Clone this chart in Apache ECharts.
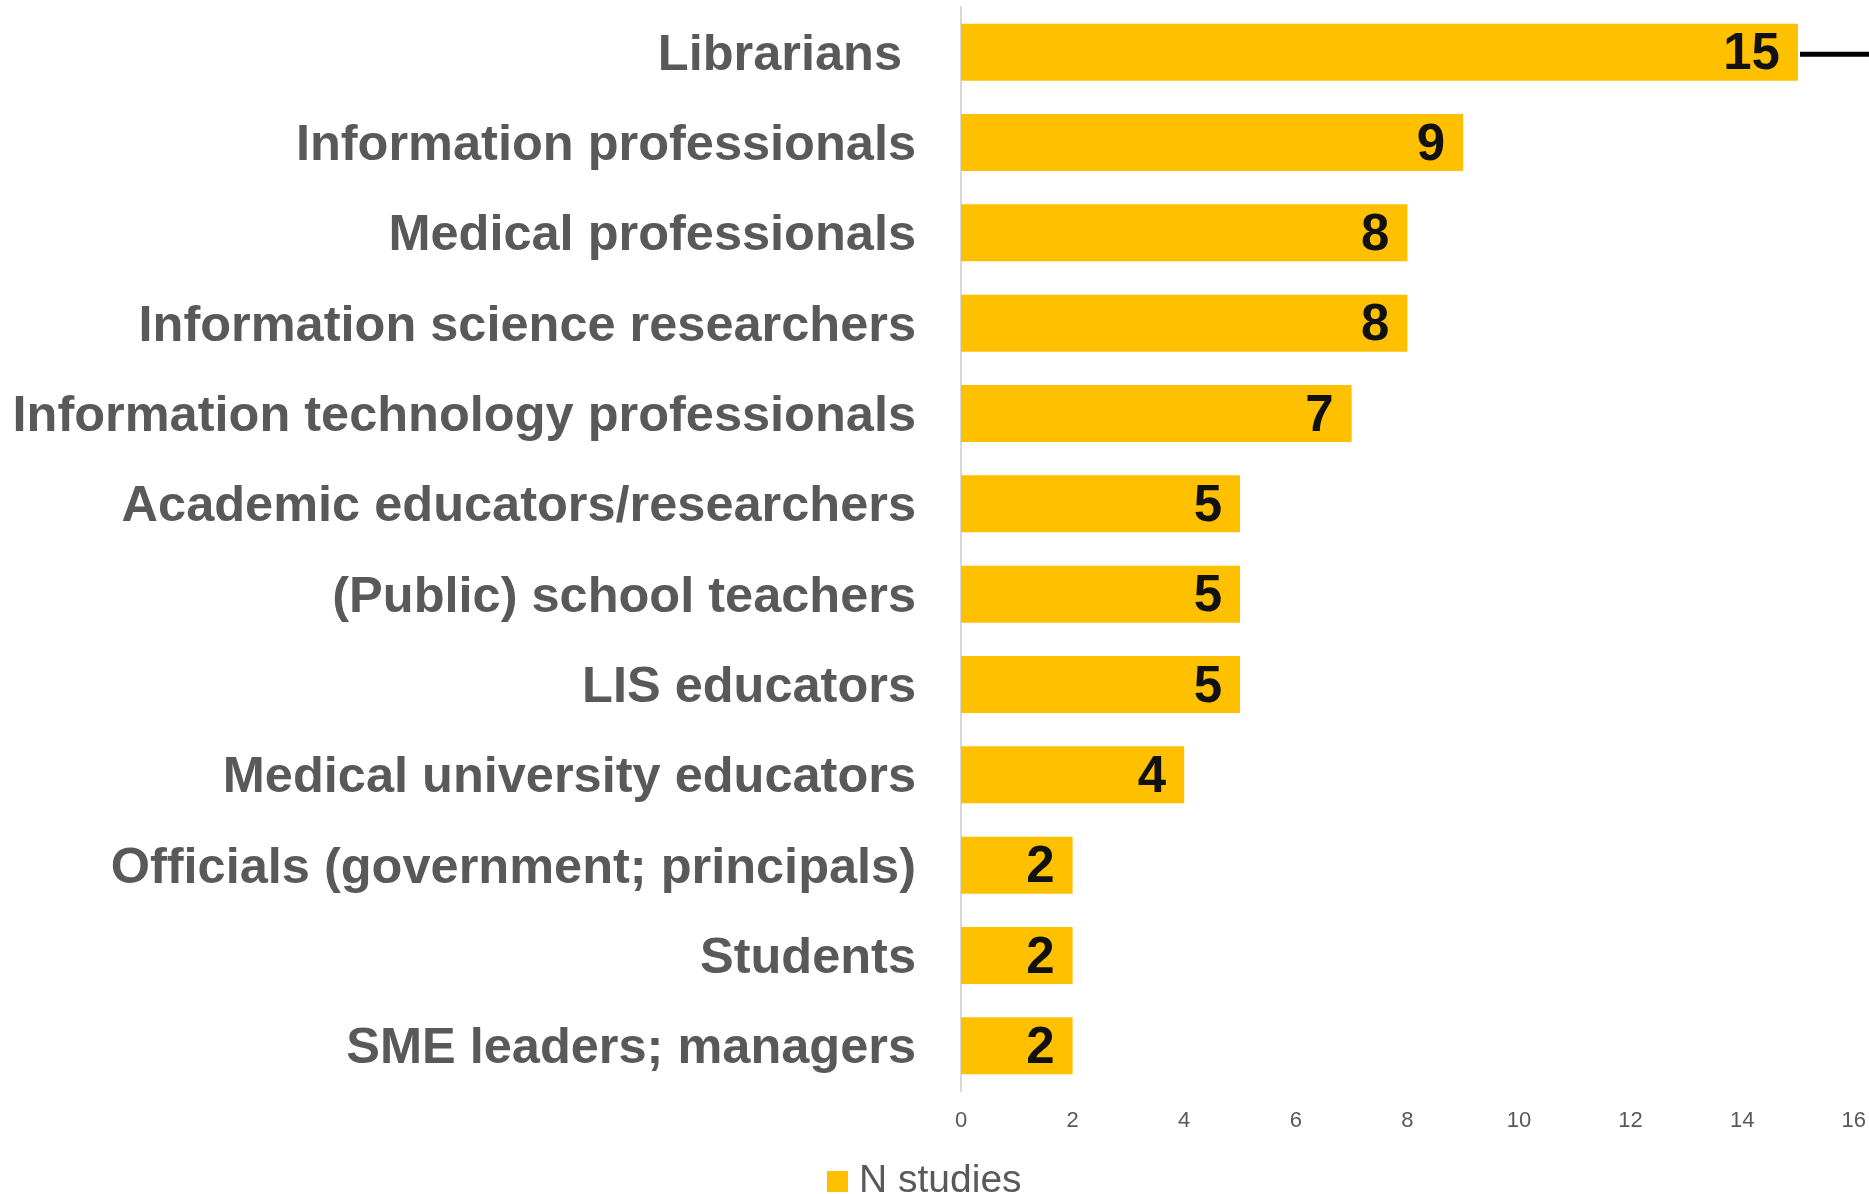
<!DOCTYPE html>
<html>
<head>
<meta charset="utf-8">
<title>N studies by participant group</title>
<script src="https://cdn.jsdelivr.net/npm/echarts@6/dist/echarts.min.js"></script>
<style>
  html, body { margin: 0; padding: 0; background: #ffffff; }
  #chart { width: 1869px; height: 1194px; }
</style>
</head>
<body>
<div id="chart"></div>
<script>
// Participant groups, top to bottom
const categories = [
  'Librarians ',
  'Information professionals',
  'Medical professionals',
  'Information science researchers',
  'Information technology professionals',
  'Academic educators/researchers',
  '(Public) school teachers',
  'LIS educators',
  'Medical university educators',
  'Officials (government; principals)',
  'Students',
  'SME leaders; managers'
];
// Number of studies per group
const nStudies = [15, 9, 8, 8, 7, 5, 5, 5, 4, 2, 2, 2];
// Value axis ticks
const axisMin = 0;
const axisMax = 16;
const axisStep = 2;

const FONT = 'Liberation Sans, Arial, sans-serif';

const chart = echarts.init(document.getElementById('chart'), null, { renderer: 'canvas' });

chart.setOption({
  animation: false,
  backgroundColor: '#ffffff',
  grid: { left: 961, right: 12, top: 7, bottom: 103, containLabel: false },
  legend: {
    data: ['N studies'],
    left: 822,
    top: 1157,
    itemWidth: 21,
    itemHeight: 21,
    icon: 'rect',
    itemGap: 10,
    textStyle: { fontFamily: FONT, fontSize: 39, color: '#595959', padding: [0, 0, 0, 6] }
  },
  xAxis: {
    type: 'value',
    min: axisMin,
    max: axisMax,
    interval: axisStep,
    axisLine: { show: false },
    axisTick: { show: false },
    splitLine: { show: false },
    axisLabel: { fontFamily: FONT, fontSize: 22, color: '#595959', margin: 19 }
  },
  yAxis: {
    type: 'category',
    inverse: true,
    data: categories,
    axisLine: { show: true, lineStyle: { color: '#d9d9d9', width: 2 } },
    axisTick: { show: false },
    axisLabel: {
      margin: 45,
      formatter: (v) => '{cat|' + v + '}',
      rich: {
        cat: {
          fontFamily: FONT,
          fontWeight: 'bold',
          fontSize: 50.5,
          color: '#595959',
          padding: [7, 0, 0, 0]
        }
      }
    }
  },
  series: [{
    name: 'N studies',
    type: 'bar',
    data: nStudies,
    barWidth: 57,
    itemStyle: { color: '#ffc000' },
    label: {
      show: true,
      position: 'insideRight',
      distance: 18,
      offset: [0, 3],
      fontFamily: FONT,
      fontWeight: 'bold',
      fontSize: 51,
      color: '#111111'
    }
  }]
});

// Connector line leaving the end of the top bar towards the right edge
const start = chart.convertToPixel({ seriesIndex: 0 }, [nStudies[0], 0]);
chart.setOption({
  graphic: [{
    type: 'line',
    shape: { x1: start[0] + 2, y1: start[1] + 2, x2: 1869, y2: start[1] + 2 },
    style: { stroke: '#000000', lineWidth: 5 },
    z: 10
  }]
});
</script>
</body>
</html>
